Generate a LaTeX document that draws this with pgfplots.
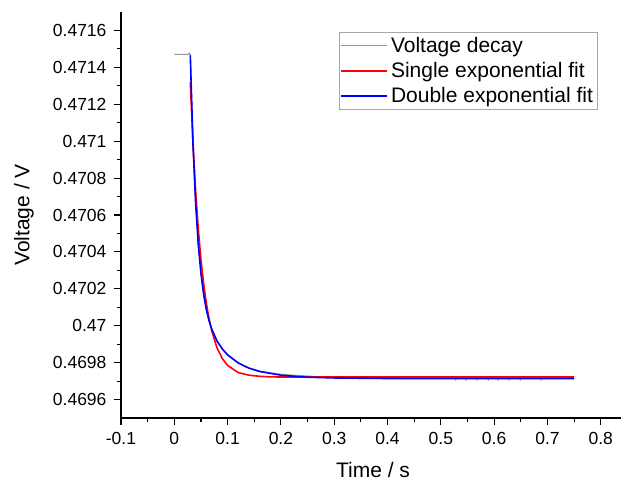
\documentclass[border=0pt]{standalone}
\usepackage{fontspec}
\setmainfont{Liberation Sans}
\usepackage{pgfplots}
\pgfplotsset{compat=1.18}
\begin{document}
\begin{tikzpicture}
\begin{axis}[
  at={(0,0)}, anchor=south west,
  scale only axis, width=500pt, height=406pt,
  xmin=-0.1, xmax=0.838, ymin=0.4695, ymax=0.4717,
  axis lines*=left,
  axis line style={line width=1.3pt, black},
  tick align=outside,
  major tick length=7pt, minor tick length=4pt,
  every tick/.style={black, line width=1.1pt},
  xtick={-0.1,0,0.1,0.2,0.3,0.4,0.5,0.6,0.7,0.8},
  xticklabels={-0.1,0,0.1,0.2,0.3,0.4,0.5,0.6,0.7,0.8},
  ytick={0.4696,0.4698,0.47,0.4702,0.4704,0.4706,0.4708,0.471,0.4712,0.4714,0.4716},
  yticklabels={0.4696,0.4698,0.47,0.4702,0.4704,0.4706,0.4708,0.471,0.4712,0.4714,0.4716},
  minor x tick num=1, minor y tick num=1,
  ticklabel style={font=\fontsize{17.5}{20}\selectfont},
  xticklabel style={yshift=-4pt},
  yticklabel style={xshift=-4pt},
  xlabel={Time / s}, ylabel={Voltage / V},
  label style={font=\fontsize{21}{24}\selectfont},
  xlabel style={at={(axis description cs:0.504,-0.128)}, anchor=center},
  ylabel style={at={(axis description cs:-0.194,0.5)}, anchor=center},
  legend cell align=left,
  legend style={at={(axis description cs:0.436,0.951)}, anchor=north west,
    draw=gray!70, line width=0.8pt, font=\fontsize{21}{23}\selectfont,
    inner xsep=1pt, inner ysep=4pt, row sep=6.5pt,
    nodes={inner xsep=3pt, inner ysep=1pt}},
  legend image code/.code={\draw[#1] (0pt,0pt) -- (46pt,0pt);},
]
\addplot[color=gray!80, line width=0.9pt] coordinates {
(0,0.47147) (0.027,0.47147) (0.028,0.471477) (0.029,0.47147) (0.030,0.47147)
(0.031,0.47140) (0.035,0.470990) (0.040,0.470660) (0.045,0.470440)
(0.050,0.470285) (0.055,0.470170) (0.060,0.470090) (0.065,0.470030)
(0.070,0.469985) (0.080,0.469918) (0.090,0.469875) (0.100,0.469843)
(0.120,0.469800) (0.130,0.469785) (0.140,0.469772) (0.160,0.469755)
(0.180,0.469745) (0.200,0.469738) (0.220,0.469733) (0.250,0.469728)
(0.280,0.469722) (0.300,0.469718) (0.350,0.469716) (0.400,0.469715)
(0.450,0.469715) (0.500,0.469715) (0.527,0.469715) (0.528,0.469706)
(0.529,0.469715) (0.546,0.469715) (0.547,0.469706) (0.548,0.469715)
(0.567,0.469715) (0.568,0.469706) (0.569,0.469715) (0.588,0.469715)
(0.589,0.469706) (0.590,0.469715) (0.606,0.469715) (0.607,0.469706)
(0.608,0.469715) (0.627,0.469715) (0.628,0.469706) (0.629,0.469715)
(0.648,0.469715) (0.649,0.469706) (0.650,0.469715) (0.687,0.469715)
(0.688,0.469706) (0.689,0.469715) (0.750,0.469715)
};
\addlegendentry{Voltage decay}
\addplot[color=red, line width=1.6pt] coordinates {
(0.030,0.471320) (0.035,0.470992) (0.040,0.470731) (0.045,0.470524)
(0.050,0.470359) (0.055,0.470228) (0.060,0.470124) (0.065,0.470041)
(0.070,0.469975) (0.080,0.469881) (0.090,0.469822) (0.100,0.469785)
(0.120,0.469746) (0.140,0.469732) (0.160,0.469726) (0.180,0.469723)
(0.200,0.469722) (0.300,0.469722) (0.500,0.469722) (0.750,0.469722)
};
\addlegendentry{Single exponential fit}
\addplot[color=blue, line width=1.6pt] coordinates {
(0.030,0.471465) (0.035,0.470988) (0.040,0.470664) (0.045,0.470439)
(0.050,0.470283) (0.055,0.470171) (0.060,0.470089) (0.065,0.470029)
(0.070,0.469983) (0.080,0.469918) (0.090,0.469874) (0.100,0.469842)
(0.120,0.469798) (0.140,0.469770) (0.160,0.469752) (0.200,0.469732)
(0.250,0.469721) (0.300,0.469717) (0.400,0.469714) (0.500,0.469713)
(0.750,0.469713)
};
\addlegendentry{Double exponential fit}
\end{axis}
\pgfresetboundingbox
\path (-121pt,-63pt) rectangle (500pt,418pt);
\end{tikzpicture}
\end{document}
